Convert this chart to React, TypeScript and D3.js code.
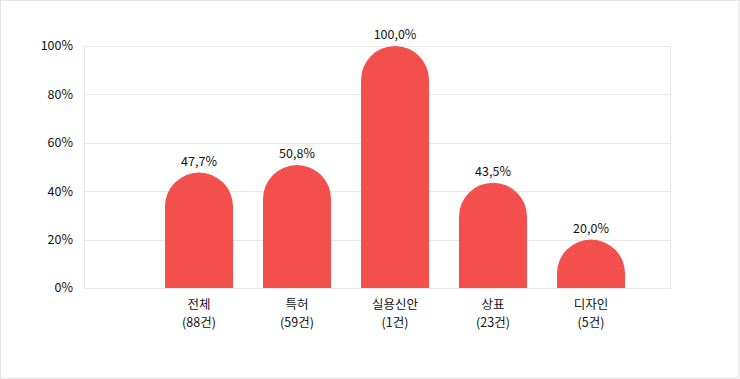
import React from "react";
import * as d3 from "d3";

const categories = ["전체", "특허", "실용신안", "상표", "디자인"];
const counts = ["(88건)", "(59건)", "(1건)", "(23건)", "(5건)"];
const values = [47.7, 50.8, 100.0, 43.5, 20.0];
const yTicks = [0, 20, 40, 60, 80, 100];

const W = 740;
const H = 379;
const plot = { left: 84, right: 670, top: 46, bottom: 288 };
const FONT = "'Noto Sans CJK KR', 'Noto Sans', sans-serif";
const BAR = "#f24f4d";

export default function App() {
  const y = d3.scaleLinear().domain([0, 100]).range([plot.bottom, plot.top]);
  const x = d3
    .scaleBand<string>()
    .domain(categories)
    .range([150, 640])
    .paddingInner(0.306)
    .paddingOuter(0.153);
  const bw = x.bandwidth();
  const r = bw / 2;

  const barPath = (c: string, v: number) => {
    const x0 = x(c)!;
    const x1 = x0 + bw;
    const yt = y(v);
    const yb = y(0);
    const p = d3.path();
    p.moveTo(x0, yb);
    p.lineTo(x0, yt + r);
    p.arc(x0 + r, yt + r, r, Math.PI, 0, false);
    p.lineTo(x1, yb);
    p.closePath();
    return p.toString();
  };

  const fmt = (v: number) => v.toFixed(1).replace(".", ",") + "%";

  return (
    <svg
      width={W}
      height={H}
      style={{ position: "absolute", left: 0, top: 0, background: "#fff" }}
      fontFamily={FONT}
    >
      <rect x={0.5} y={0.5} width={W - 1.5} height={H - 1.5} fill="#fff" stroke="#e4e4e4" />
      {yTicks.map((t) => (
        <g key={t}>
          <line
            x1={plot.left}
            x2={plot.right}
            y1={Math.round(y(t)) + 0.5}
            y2={Math.round(y(t)) + 0.5}
            stroke="#e8e8e8"
          />
          <text
            x={73}
            y={y(t)}
            dy="0.35em"
            textAnchor="end"
            fontSize={12.5}
            fill="#111"
          >
            {t}%
          </text>
        </g>
      ))}
      <line x1={plot.left + 0.5} x2={plot.left + 0.5} y1={plot.top} y2={plot.bottom + 1} stroke="#e8e8e8" />
      <line x1={plot.right + 0.5} x2={plot.right + 0.5} y1={plot.top} y2={plot.bottom + 1} stroke="#e8e8e8" />
      {categories.map((c, i) => (
        <g key={c}>
          <path d={barPath(c, values[i])} fill={BAR} />
          <text
            x={x(c)! + r}
            y={y(values[i]) - 7}
            textAnchor="middle"
            fontSize={12.5}
            fill="#111"
          >
            {fmt(values[i])}
          </text>
          <text
            x={x(c)! + r}
            y={plot.bottom + 17}
            dy="0.35em"
            textAnchor="middle"
            fontSize={12.5}
            fill="#111"
          >
            {c}
          </text>
          <text
            x={x(c)! + r}
            y={plot.bottom + 35}
            dy="0.35em"
            textAnchor="middle"
            fontSize={12.5}
            fill="#111"
          >
            {counts[i]}
          </text>
        </g>
      ))}
    </svg>
  );
}
